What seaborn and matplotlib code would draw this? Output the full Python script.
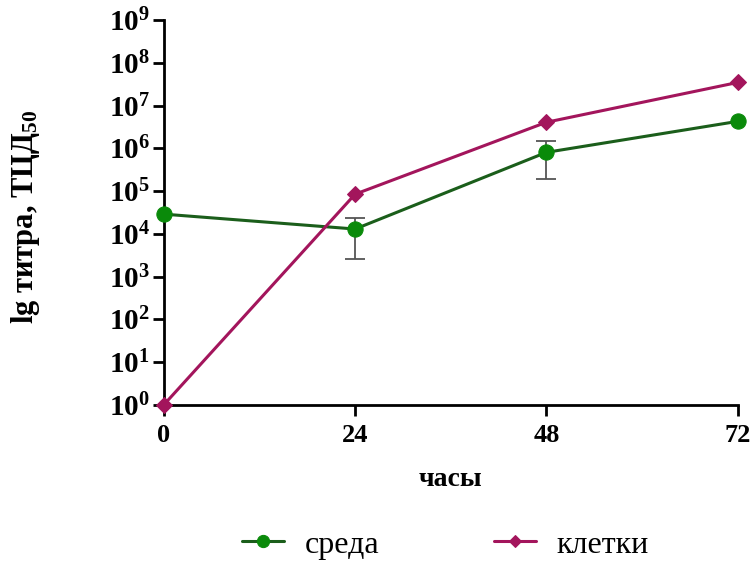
import numpy as np
import pandas as pd
import matplotlib
matplotlib.use("Agg")
import matplotlib.pyplot as plt
import seaborn as sns

hours = [0, 24, 48, 72]
sreda = [2.9e4, 1.3e4, 8.1e5, 4.3e6]
sreda_err_low = [2.9e4, 2.6e3, 1.9e5, 4.3e6]
sreda_err_high = [2.9e4, 2.3e4, 1.5e6, 4.3e6]
kletki = [1.0, 8.5e4, 4.1e6, 3.5e7]
series_names = ["среда", "клетки"]
y_ticks = [10**i for i in range(10)]
y_tick_labels = [r"$10^{%d}$" % i for i in range(10)]
x_ticks = [0, 24, 48, 72]

sns.set_theme(style="white")
plt.rcParams['font.family'] = ['Liberation Serif', 'DejaVu Serif']
plt.rcParams['mathtext.fontset'] = 'custom'
plt.rcParams['mathtext.rm'] = 'Liberation Serif:bold'
plt.rcParams['mathtext.it'] = 'Liberation Serif:bold'
plt.rcParams['mathtext.bf'] = 'Liberation Serif:bold'
plt.rcParams['text.color'] = 'black'
plt.rcParams['axes.labelcolor'] = 'black'

df = pd.DataFrame({
    "hours": hours * 2,
    "value": sreda + kletki,
    "series": [series_names[0]] * 4 + [series_names[1]] * 4,
})

green_line = "#1b5e1b"
green_mark = "#0a8a0a"
magenta = "#a3155c"

fig = plt.figure(figsize=(7.55, 5.63), dpi=100)
ax = fig.add_axes([0.217, 0.281, 0.76, 0.683])

sns.lineplot(data=df[df.series == series_names[0]], x="hours", y="value", ax=ax,
             color=green_line, lw=2.2, marker="o", markersize=11,
             markerfacecolor=green_mark, markeredgecolor=green_mark,
             label=series_names[0], clip_on=False, zorder=4)
sns.lineplot(data=df[df.series == series_names[1]], x="hours", y="value", ax=ax,
             color=magenta, lw=2.2, marker="D", markersize=8,
             markerfacecolor=magenta, markeredgecolor=magenta,
             label=series_names[1], clip_on=False, zorder=5)

s = np.array(sreda)
yerr = np.vstack([s - np.array(sreda_err_low), np.array(sreda_err_high) - s])
ax.errorbar(hours[1:3], sreda[1:3], yerr=yerr[:, 1:3], fmt="none",
            ecolor="#555555", elinewidth=1.3, capsize=7, capthick=1.3, zorder=3)

ax.set_yscale("log")
ax.set_ylim(1, 1e9)
ax.set_xlim(0, 72)
ax.set_yticks(y_ticks)
ax.set_yticklabels(y_tick_labels)
ax.minorticks_off()
ax.set_xticks(x_ticks)
ax.set_xticklabels([str(v) for v in x_ticks], fontweight="bold")

for side in ["top", "right"]:
    ax.spines[side].set_visible(False)
for side in ["left", "bottom"]:
    ax.spines[side].set_color("black")
    ax.spines[side].set_linewidth(2)

ax.tick_params(axis="both", which="major", direction="out", length=8, width=2,
               color="black", labelcolor="black", pad=4, left=True, bottom=True)
ax.tick_params(axis="y", labelsize=21, pad=2)
ax.tick_params(axis="x", labelsize=19, pad=6)

ax.set_xlabel("часы", fontsize=20, fontweight="bold", labelpad=14)
ax.set_ylabel("lg титра, ТЦД$_{50}$", fontsize=22, fontweight="bold")
ax.yaxis.set_label_coords(-0.212, 0.49)

ax.get_legend().remove()
handles, labels = ax.get_legend_handles_labels()
fig.legend(handles, labels, loc="center", bbox_to_anchor=(0.59, 0.032), ncol=2,
           frameon=False, fontsize=23, columnspacing=3.6, handlelength=1.3,
           handletextpad=0.65, markerscale=0.8)

fig.savefig("out.png", dpi=100)
